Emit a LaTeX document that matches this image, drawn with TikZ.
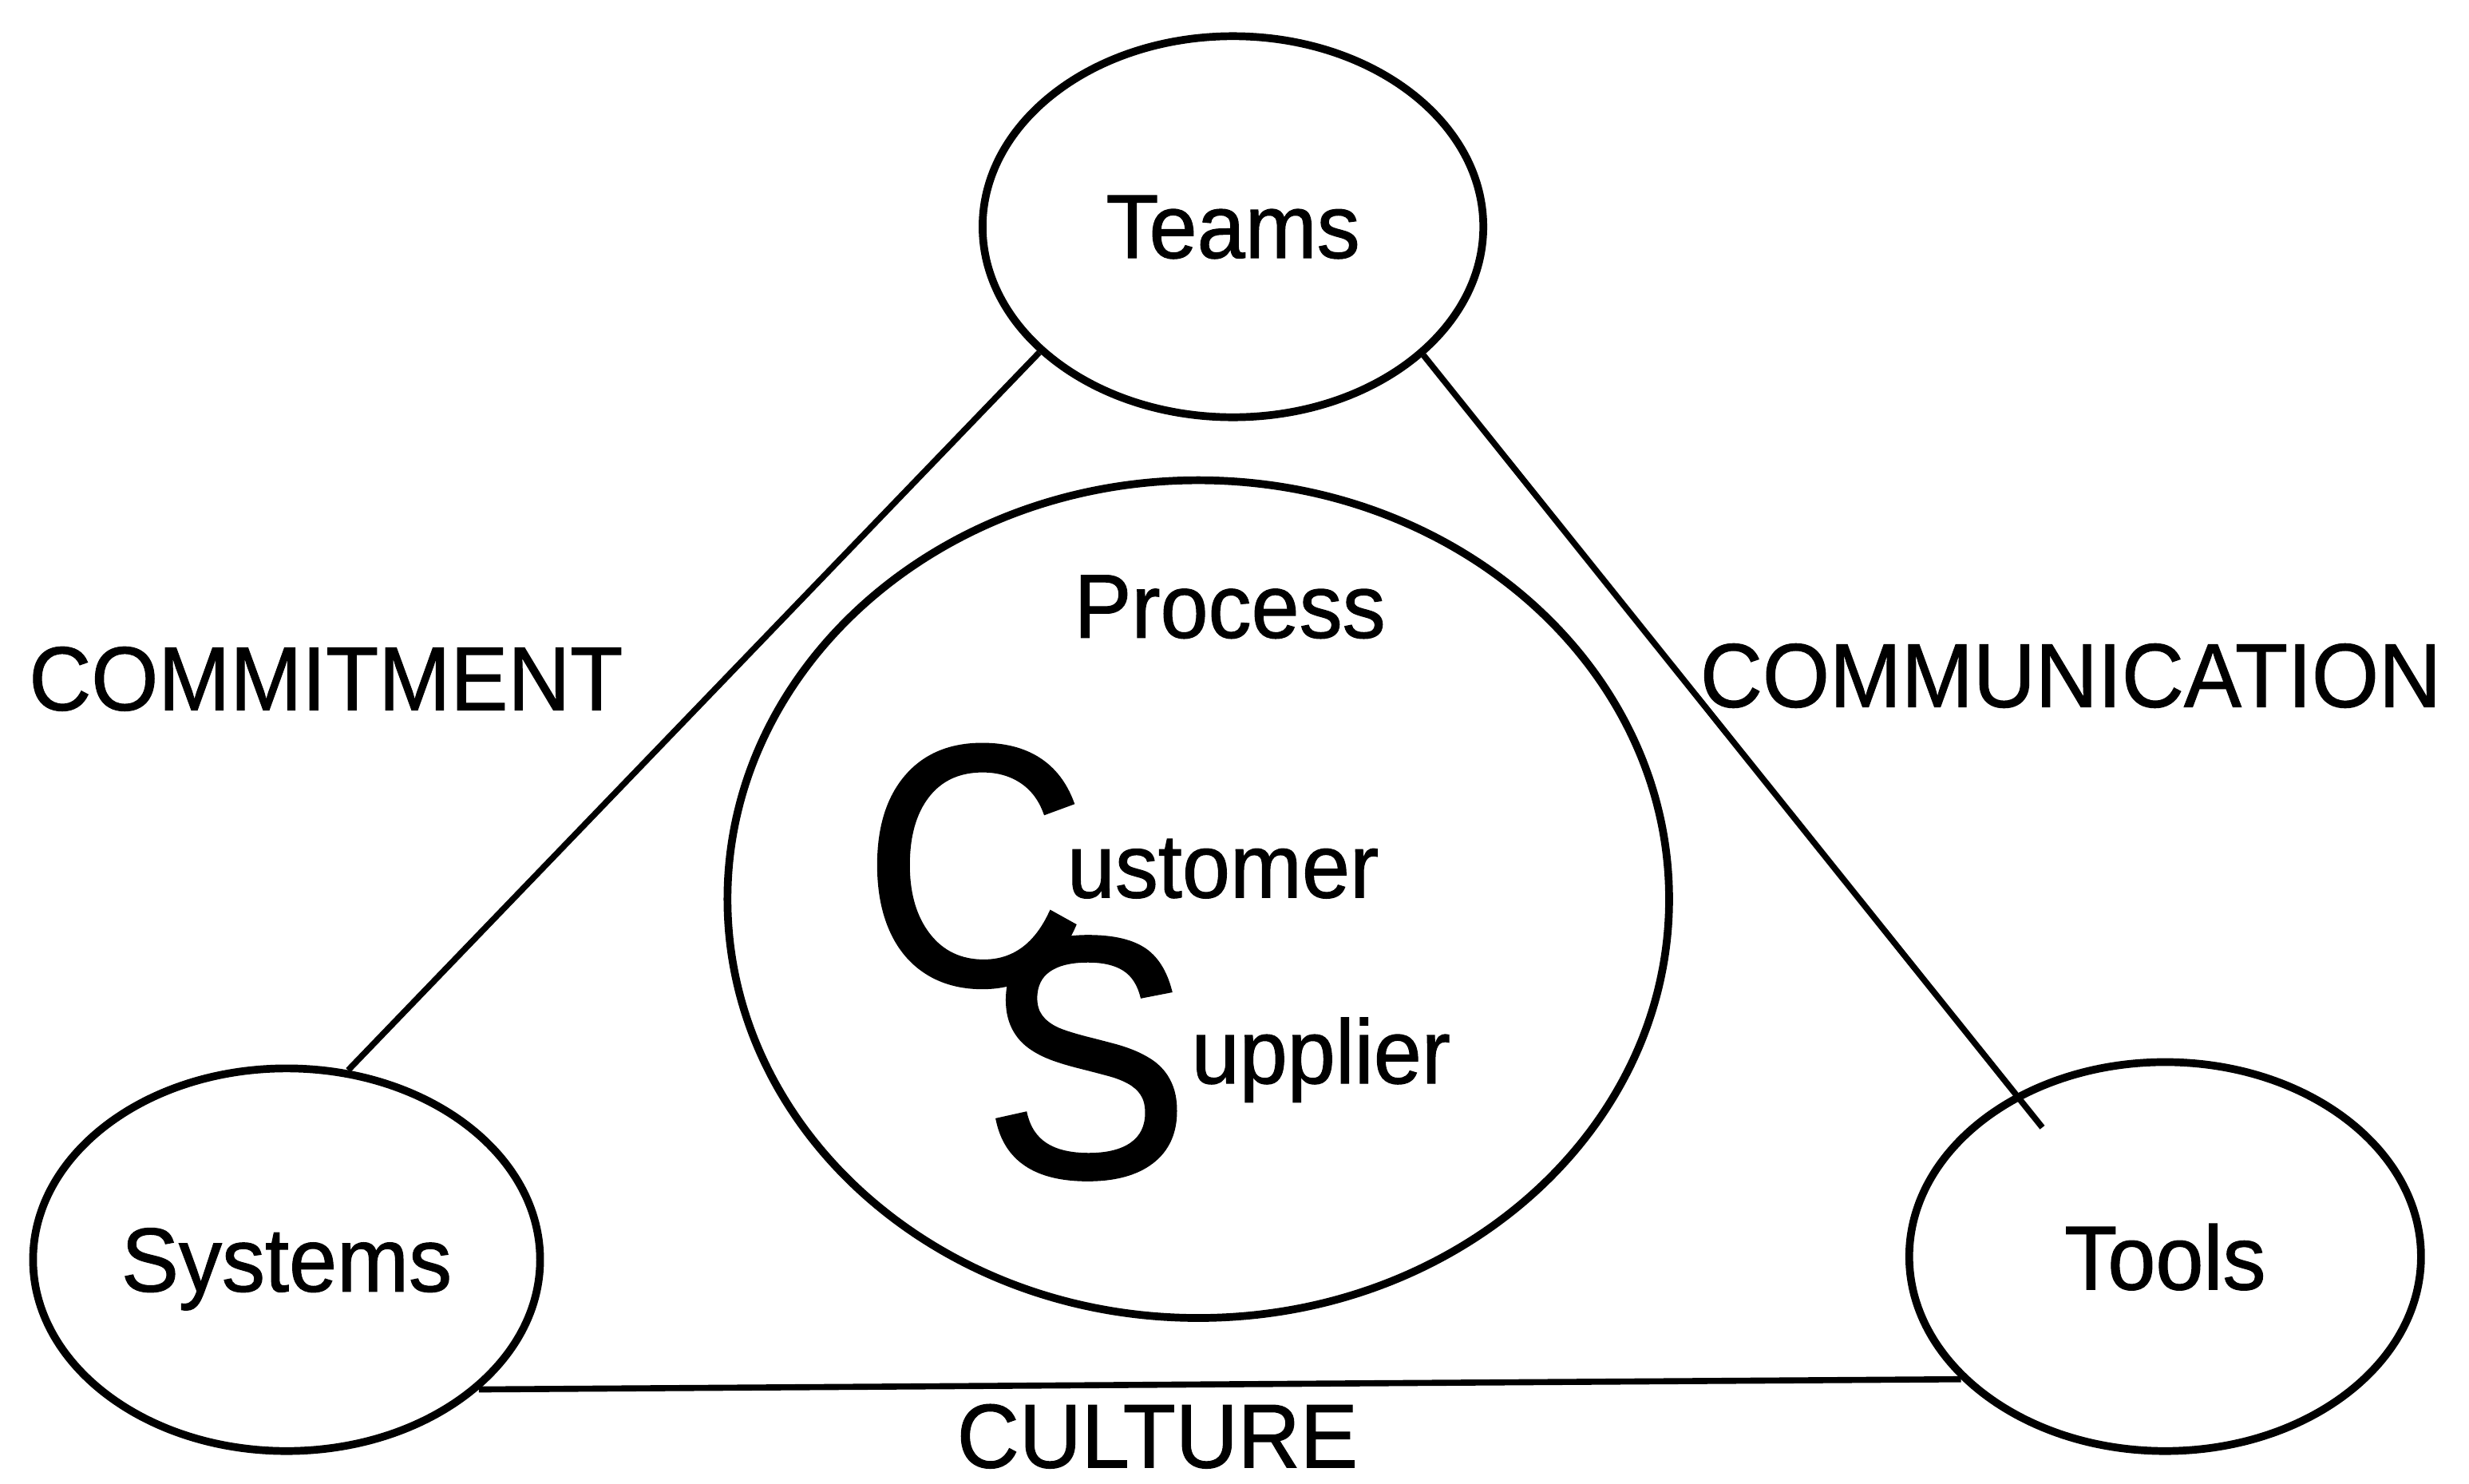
\documentclass[tikz,border=0pt]{standalone}
\usepackage{fontspec}
\setmainfont{Liberation Sans}[FakeStretch=0.95, FakeBold=1]
\newfontfamily\bigfont{Liberation Sans}[FakeStretch=0.9, FakeBold=1]
\usetikzlibrary{shapes.geometric}

\begin{document}
\begin{tikzpicture}[
  oval/.style={draw, ellipse, line width=1.4pt, inner sep=0pt, text depth=0pt},
  linktext/.style={inner sep=0pt, anchor=base},
  bigletter/.style={inner sep=0pt, anchor=base, font=\bigfont\fontsize{62}{66}\selectfont},
  every node/.append style={font=\fontsize{16.4}{19}\selectfont}
  ]
  \useasboundingbox (0,0) rectangle (15.68,9.42);
  \node[oval, minimum width=3.18cm, minimum height=2.42cm] (Teams) at (7.83,7.98) {Teams};
  \node[oval, minimum width=3.22cm, minimum height=2.43cm] (Systems) at (1.82,1.42) {Systems};
  \node[oval, minimum width=3.25cm, minimum height=2.47cm] (Tools) at (13.75,1.44) {Tools};
  \node[oval, minimum width=5.98cm, minimum height=5.32cm] (Process) at (7.61,3.71) {};
  \node[linktext] (ProcessText) at (7.81,5.37) {Process};
  \node[bigletter] (BigC) at (6.19,3.17) {C};
  \node[bigletter] (BigS) at (6.90,1.95) {S};
  \node[linktext, anchor=base west] (Customer) at (6.77,3.72) {ustomer};
  \node[linktext, anchor=base west] (Supplier) at (7.56,2.54) {upplier};
  \node[linktext] (Commitment) at (2.07,4.91) {COMMITMENT};
  \node[linktext] (Communication) at (13.15,4.93) {COMMUNICATION};
  \node[linktext] (Culture) at (7.35,0.10) {CULTURE};
  \coordinate (ToolsIn) at (12.97,2.26);
  \draw[line width=1.1pt] (Teams.213.4) -- (Systems.72);
  \draw[line width=1.1pt] (Teams.326.9) -- (ToolsIn);
  \draw[line width=1.1pt] (Systems.326.9) -- (Tools.211.5);
\end{tikzpicture}
\end{document}
